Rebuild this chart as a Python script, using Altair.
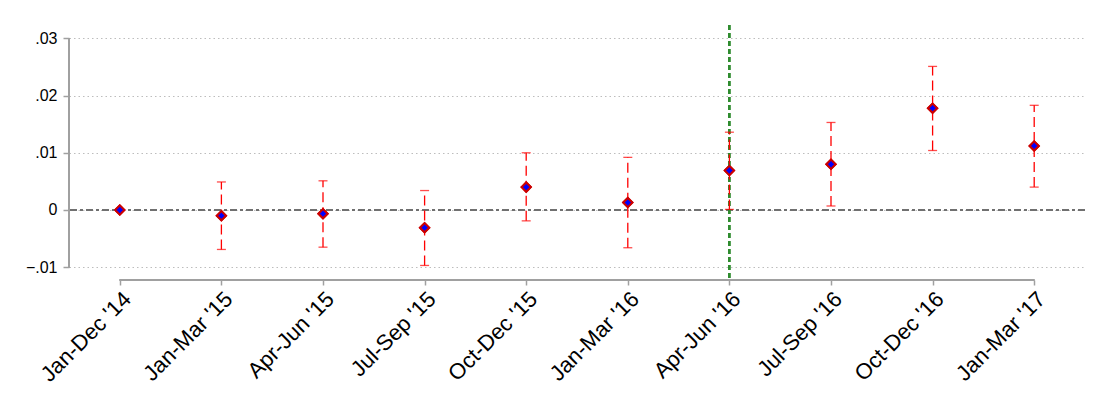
import altair as alt
import pandas as pd

periods = ["Jan-Dec '14", "Jan-Mar '15", "Apr-Jun '15", "Jul-Sep '15", "Oct-Dec '15",
           "Jan-Mar '16", "Apr-Jun '16", "Jul-Sep '16", "Oct-Dec '16", "Jan-Mar '17"]
estimate = [0.0, -0.0010, -0.00065, -0.0031, 0.0040, 0.0013, 0.0069, 0.0080, 0.0178, 0.0112]
ci_low = [0.0, -0.0069, -0.0065, -0.0097, -0.0019, -0.0066, 0.0001, 0.0007, 0.0104, 0.0040]
ci_high = [0.0, 0.0049, 0.0051, 0.0034, 0.0100, 0.0092, 0.0136, 0.0153, 0.0251, 0.0183]
y_ticks = [-0.01, 0.0, 0.01, 0.02, 0.03]
event_period = "Apr-Jun '16"

df = pd.DataFrame({"period": periods, "est": estimate, "lo": ci_low, "hi": ci_high})

FONT = "Liberation Sans"
W, H = 1016, 255

xscale = alt.Scale(type="point", domain=periods, padding=0.5)
yscale = alt.Scale(domain=[-0.01224, 0.03234], nice=False, zero=False)

x_enc = alt.X("period:O", scale=xscale, sort=periods, title=None,
              axis=alt.Axis(domain=False, grid=False, ticks=True, tickSize=5,
                            tickColor="#a0a0a0", tickWidth=1.5, labelAngle=-45,
                            labelFontSize=22, labelFont=FONT, labelColor="black",
                            labelPadding=3, labelAlign="right", labelBaseline="top"))
y_enc = alt.Y("est:Q", scale=yscale, title=None,
              axis=alt.Axis(values=y_ticks, domain=False, grid=True, gridColor="#bdbdbd",
                            gridDash=[1.5, 3], gridWidth=1, tickSize=6, tickColor="#a0a0a0",
                            tickWidth=1.5, labelFontSize=16, labelFont=FONT,
                            labelColor="black", labelPadding=6,
                            labelExpr="datum.value == 0 ? '0' : replace(format(datum.value, '.2f'), '0.', '.')"))

base = alt.Chart(df)

points = base.mark_point(shape="diamond", filled=True, fill="#0000ff", stroke="#cc0000",
                         strokeWidth=2, size=85, opacity=1).encode(x=x_enc, y=y_enc)

yaxis_line = base.mark_rule(color="#a0a0a0", strokeWidth=1.5).encode(
    x=alt.value(0), y=alt.datum(y_ticks[0]), y2=alt.datum(y_ticks[-1]))
xaxis_line = base.mark_rule(color="#a0a0a0", strokeWidth=1.5).encode(
    x=alt.datum(periods[0]), x2=alt.datum(periods[-1]), y=alt.value(H))

zero_line = base.mark_rule(color="#707070", strokeWidth=1.3, strokeDash=[7, 3, 3, 3]).encode(
    y=alt.datum(0))
event_line = base.mark_rule(color="#2e8b2e", strokeWidth=1.5, strokeDash=[5, 3]).encode(
    x=alt.datum(event_period))

bars = base.mark_rule(color="#ff0000", strokeWidth=1.3, strokeDash=[10, 5]).encode(
    x="period:O", y="lo:Q", y2="hi:Q")
cap_lo = base.mark_tick(color="#ff0000", size=9, thickness=1.3).encode(x="period:O", y="lo:Q")
cap_hi = base.mark_tick(color="#ff0000", size=9, thickness=1.3).encode(x="period:O", y="hi:Q")

chart = alt.layer(points, zero_line, event_line, bars, cap_lo, cap_hi, points,
                  yaxis_line, xaxis_line).properties(
    width=W, height=H,
    autosize=alt.AutoSizeParams(type="none"),
    padding={"left": 69, "top": 25, "right": 25, "bottom": 138},
    background="white",
).configure_view(stroke=None)

chart.save("out.html", embed_options={"renderer": "svg", "actions": False})
